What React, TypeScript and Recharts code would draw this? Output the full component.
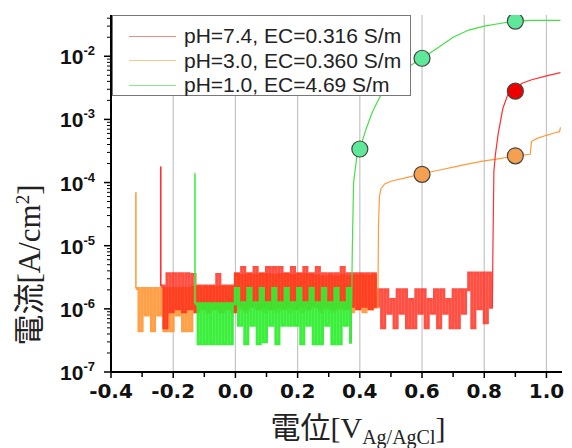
import React from 'react';
import { ComposedChart, Line, XAxis, YAxis, ReferenceLine, Legend } from 'recharts';

// potential step of the noisy (pre-breakdown) part, V
const STEP = 0.01;

const seriesNames = ['pH=7.4, EC=0.316 S/m', 'pH=3.0, EC=0.360 S/m', 'pH=1.0, EC=4.69 S/m'];
const legendColors = ['#f28a8a', '#f8c890', '#8ee88e'];

const xTicks = [-0.4, -0.3, -0.2, -0.1, 0, 0.1, 0.2, 0.3, 0.4, 0.5, 0.6, 0.7, 0.8, 0.9, 1.0];
const xGrid = [-0.2, 0, 0.2, 0.4, 0.6, 0.8, 1.0];
const decades = [-7, -6, -5, -4, -3, -2];
const minorSteps = [2, 3, 4, 5, 6, 7, 8, 9];

// noisy current, µA/cm², one value per STEP starting at the given potential
const redSpike: [number, number] = [-0.24, 1.8e-4];
const redNoise: [number, number[]][] = [
  [-0.24, [2.3, 0.5, 3.6, 0.9, 3.6, 1.0, 3.6, 0.9, 3.6, 1.0, 3.5, 0.9, 2.3, 1.0, 2.3, 0.9, 2.3, 1.0, 3.5, 0.9, 2.3, 1.0, 2.3, 0.9]],
  [0.0, [3.6, 1.1, 4.5, 1.0, 3.6, 1.1, 4.5, 1.0, 3.6, 1.1, 4.5, 1.0, 4.5, 1.1, 4.5, 1.0, 3.6, 1.1, 4.5, 1.0, 3.6, 1.1, 4.5, 1.0,
    3.6, 1.1, 4.5, 1.0, 3.6, 1.1, 3.6, 1.0, 3.6, 1.1, 4.5, 1.0, 3.6, 1.1, 3.6, 1.0, 3.6, 1.1, 3.6, 1.0, 3.6, 1.1]],
  [0.46, [2.0, 0.5, 2.0, 0.85, 1.4, 0.5, 2.0, 0.85, 2.0, 0.5, 1.4, 0.5, 2.0, 0.85, 2.0, 0.5, 1.4, 0.85, 2.0, 0.5, 2.0, 0.85, 1.4, 0.5,
    2.0, 0.5, 2.0, 0.85, 2.0]],
  [0.75, [3.7, 0.5, 3.7, 1.0, 3.7, 0.6, 3.7, 1.0]],
];
const orangeSpike: [number, number] = [-0.32, 7e-5];
const orangeNoise: [number, number[]][] = [
  [-0.32, [2.1, 0.45, 2.1, 0.8, 2.1, 0.45, 2.1, 0.8, 2.1, 0.45, 2.1, 0.45, 2.1, 0.8, 2.1, 0.45, 2.1, 0.45]],
  [-0.14, [2.2, 0.9, 2.2, 1.0, 2.2, 0.9, 2.2, 1.0, 2.2, 0.9, 2.2, 1.0, 2.2, 0.9]],
  [0.0, [3.5, 1.0, 3.4, 0.9, 3.5, 1.1, 3.4, 1.0, 3.5, 0.9, 3.5, 1.0, 3.4, 0.9, 3.5, 1.1, 3.5, 0.9, 3.4, 1.0, 3.5, 0.9, 3.5, 1.0,
    3.4, 1.1, 3.3, 0.9, 3.2, 1.0, 3.3, 0.9, 3.2, 1.0, 3.4, 1.1, 3.2, 0.9, 3.3, 1.0, 3.4, 0.9, 3.3, 1.0, 3.4, 1.0]],
];
const greenSpike: [number, number] = [-0.13, 1.4e-4];
const greenNoise: [number, number[]][] = [
  [-0.13, [1.2, 0.28, 1.2, 0.28, 1.2, 0.28, 1.2, 0.28, 1.2, 0.28, 1.2, 0.28, 1.2]],
  [0.0, [2.1, 0.55, 1.25, 0.28, 2.1, 0.55, 1.25, 0.28, 2.1, 0.3, 1.25, 0.55, 2.1, 0.28, 1.25, 0.55, 2.1, 0.55, 1.25, 0.55,
    2.1, 0.28, 1.25, 0.55, 2.1, 0.28, 1.25, 0.28, 2.1, 0.55, 1.25, 0.28, 2.1, 0.28, 1.25, 0.55, 2.1, 0.28]],
];

// breakdown curves, [V, A/cm²]
const redRise = [[0.826, 1.0e-6], [0.828, 1e-5], [0.831, 1.5e-4], [0.836, 2.8e-4], [0.845, 6e-4], [0.86, 1.5e-3], [0.875, 2.4e-3],
  [0.9, 3.0e-3], [0.92, 3.7e-3], [0.95, 4.2e-3], [1.0, 4.9e-3], [1.045, 5.5e-3]];
const orangeRise = [[0.458, 1.0e-6], [0.46, 2e-5], [0.463, 6e-5], [0.468, 8e-5], [0.48, 9.5e-5], [0.5, 1.05e-4], [0.55, 1.2e-4],
  [0.6, 1.38e-4], [0.65, 1.55e-4], [0.7, 1.75e-4], [0.75, 1.98e-4], [0.8, 2.2e-4], [0.85, 2.4e-4], [0.9, 2.65e-4], [0.948, 2.8e-4],
  [0.952, 4.5e-4], [0.97, 5e-4], [1.0, 5.6e-4], [1.03, 6.2e-4], [1.042, 6.4e-4], [1.045, 7.5e-4]];
const greenRise = [[0.372, 3e-7], [0.376, 1e-5], [0.38, 1e-4], [0.39, 2.5e-4], [0.4, 3.4e-4], [0.42, 7e-4], [0.44, 1.3e-3],
  [0.465, 2.3e-3], [0.5, 4e-3], [0.55, 6.5e-3], [0.6, 9.3e-3], [0.65, 1.35e-2], [0.7, 2.0e-2], [0.75, 2.6e-2], [0.8, 3.0e-2],
  [0.85, 3.3e-2], [0.9, 3.6e-2], [0.95, 3.7e-2], [1.045, 3.7e-2]];

const redMarkers = [[0.9, 2.8e-3]];
const orangeMarkers = [[0.6, 1.35e-4], [0.9, 2.65e-4]];
const greenMarkers = [[0.4, 3.4e-4], [0.6, 9.3e-3], [0.9, 3.6e-2]];

const noisePoints = (segments: [number, number[]][]) => {
  const pts: { x: number; y: number }[] = [];
  segments.forEach(([start, levels]) =>
    levels.forEach((v, i) => pts.push({ x: +(start + i * STEP).toFixed(3), y: v * 1e-6 })));
  return pts;
};
const spikePoints = (spike: [number, number], segments: [number, number[]][]) => [
  { x: spike[0], y: spike[1] },
  { x: spike[0], y: segments[0][1][0] * 1e-6 },
];
const pairs = (arr: number[][]) => arr.map(([x, y]) => ({ x, y }));

const yTicks = decades
  .flatMap((d) => [10 ** d, ...minorSteps.map((m) => m * 10 ** d)])
  .filter((v) => v <= 0.045);

const YTick = (props: any) => {
  const { x, y, payload } = props;
  const lg = Math.log10(payload.value);
  const exp = Math.round(lg);
  const major = Math.abs(lg - exp) < 1e-6;
  return (
    <g>
      <line x1={x - (major ? 7 : 4)} x2={x} y1={y} y2={y} stroke="#000" strokeWidth={major ? 1.5 : 1} />
      {major && (
        <text x={x - 16} y={y + 8} textAnchor="end" fontFamily="Liberation Sans, Arial" fontWeight="bold" fontSize={21} fill="#111">
          10<tspan dy={-9} fontSize={13}>{exp}</tspan>
        </text>
      )}
    </g>
  );
};

const XTick = (props: any) => {
  const { x, y, payload } = props;
  const v = payload.value;
  const major = Math.abs(Math.round(v * 10) % 2) === 0;
  return (
    <g>
      <line x1={x} x2={x} y1={y} y2={y + (major ? 6 : 5)} stroke="#000" strokeWidth={1.5} />
      {major && (
        <text x={x} y={y + 26} textAnchor="middle" fontFamily="DejaVu Sans" fontWeight="bold" fontSize={20} fill="#111">
          {v.toFixed(1)}
        </text>
      )}
    </g>
  );
};

const LegendBox = () => (
  <div style={{ width: 299, height: 81, boxSizing: 'border-box', border: '1px solid #777', background: '#fff', position: 'relative' }}>
    {seriesNames.map((name, i) => (
      <div key={name} style={{ position: 'absolute', left: 16, top: 8 + i * 24.5, height: 24, display: 'flex', alignItems: 'center' }}>
        <div style={{ width: 47, height: 0, borderTop: `1.5px solid ${legendColors[i]}` }} />
        <span style={{ marginLeft: 8, fontFamily: 'Liberation Sans, Arial', fontSize: 21, color: '#222', whiteSpace: 'nowrap' }}>{name}</span>
      </div>
    ))}
  </div>
);

const noiseLine = (data: any[], color: string, opacity: number) => (
  <Line data={data} dataKey="y" type="stepAfter" stroke={color} strokeOpacity={opacity} strokeWidth={3}
    dot={false} isAnimationActive={false} legendType="none" />
);
const thinLine = (data: any[], color: string, width = 1.2) => (
  <Line data={data} dataKey="y" type="linear" stroke={color} strokeWidth={width} dot={false} isAnimationActive={false} legendType="none" />
);
const markerLine = (data: any[], fill: string) => (
  <Line data={data} dataKey="y" stroke="none" dot={{ r: 8, fill, stroke: '#444', strokeWidth: 1.2 }} isAnimationActive={false} legendType="none" />
);

export default function App() {
  return (
    <div style={{ position: 'absolute', left: 0, top: 0, background: '#fff' }}>
      <ComposedChart width={572} height={448} margin={{ top: 15, right: 10, bottom: 0, left: 0 }}>
        <XAxis dataKey="x" type="number" domain={[-0.4, 1.05]} ticks={xTicks} allowDataOverflow
          axisLine={{ stroke: '#000', strokeWidth: 2 }} tickLine={false} tickSize={0} tickMargin={0} height={76}
          tick={<XTick />} interval={0}
          label={{ content: () => (
            <text x={358} y={438} textAnchor="middle" fontFamily="Liberation Serif, Noto Sans CJK JP" fontSize={30} fill="#222">
              電位[V<tspan dy={6} fontSize={20}>Ag/AgCl</tspan><tspan dy={-6}>]</tspan>
            </text>
          ) }} />
        <YAxis type="number" scale="log" domain={[1e-7, 0.045]} ticks={yTicks} allowDataOverflow width={111}
          axisLine={{ stroke: '#000', strokeWidth: 2 }} tickLine={false} tickSize={0} tickMargin={0}
          tick={<YTick />} interval={0}
          label={{ content: () => (
            <text transform="translate(40,265) rotate(-90)" textAnchor="middle" fontFamily="Liberation Serif, Noto Sans CJK JP" fontSize={31} fill="#222">
              電流[A/cm<tspan dy={-11} fontSize={19}>2</tspan><tspan dy={11}>]</tspan>
            </text>
          ) }} />
        {xGrid.map((v) => (
          <ReferenceLine key={v} x={v} stroke="#c4c4c4" strokeWidth={1.2} />
        ))}
        {noiseLine(noisePoints(orangeNoise), '#ff9a3c', 0.95)}
        {thinLine(spikePoints(orangeSpike, orangeNoise), '#ffa040', 1.6)}
        {noiseLine(noisePoints(redNoise), '#ff2a1a', 0.82)}
        {thinLine(spikePoints(redSpike, redNoise), '#ff3030', 1.6)}
        {noiseLine(noisePoints(greenNoise), '#33ee33', 0.95)}
        {thinLine(spikePoints(greenSpike, greenNoise), '#44ee44', 1.6)}
        {thinLine(pairs(orangeRise), '#ff9a3c')}
        {thinLine(pairs(redRise), '#ff3030')}
        {thinLine(pairs(greenRise), '#44e044')}
        {markerLine(pairs(orangeMarkers), '#f5a050')}
        {markerLine(pairs(redMarkers), '#ee0000')}
        {markerLine(pairs(greenMarkers), '#5ee89a')}
        <Legend layout="vertical" align="center" verticalAlign="middle" content={<LegendBox />}
          wrapperStyle={{ left: 112, top: 15, width: 299 }} />
      </ComposedChart>
    </div>
  );
}
